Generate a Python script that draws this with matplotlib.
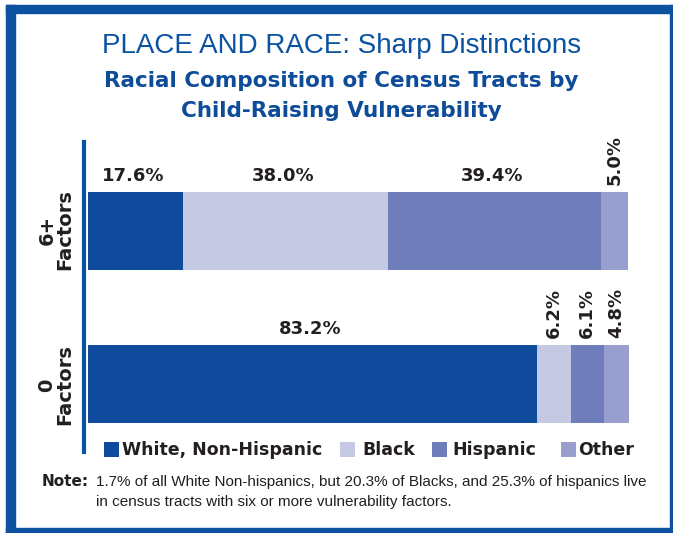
import matplotlib
matplotlib.use("Agg")
import matplotlib.pyplot as plt
from matplotlib.patches import Rectangle
import numpy as np

# ---- data ----
groups = ["6+\nFactors", "0\nFactors"]
races = ["White, Non-Hispanic", "Black", "Hispanic", "Other"]
six_plus = [17.6, 38.0, 39.4, 5.0]
zero = [83.2, 6.2, 6.1, 4.8]
colors = ["#0F4A9C", "#C5C9E3", "#6F7DBA", "#989FCF"]

title = "PLACE AND RACE: Sharp Distinctions"
subtitle = "Racial Composition of Census Tracts by\nChild-Raising Vulnerability"
note_head = "Note:"
note_line1 = "1.7% of all White Non-hispanics, but 20.3% of Blacks, and 25.3% of hispanics live"
note_line2 = "in census tracts with six or more vulnerability factors."

W, H = 673, 533
BLUE = "#0B53A0"
DARK = "#231F20"
plt.rcParams['font.family'] = ['DejaVu Sans']
NARROW = ["Liberation Sans", "DejaVu Sans"]

fig = plt.figure(figsize=(W / 100, H / 100), dpi=100)

def fx(x):
    return x / W

def fy(y):
    return 1 - y / H

# frame
for (x0, y0, x1, y1) in [(6, 5, 15, 533), (6, 5, 673, 13), (670, 5, 673, 533), (6, 528, 673, 533)]:
    fig.patches.append(Rectangle((fx(x0), fy(y1)), fx(x1) - fx(x0), (y1 - y0) / H,
                                 transform=fig.transFigure, color=BLUE, zorder=5))

# axes: x from 88 to 629 px, y from 142 to 452 px
ax = fig.add_axes([fx(88), fy(452), fx(629) - fx(88), (452 - 142) / H])
unit = 153.0
ypos = [1, 0]  # 6+ on top
bar_h = 78 / unit
ax.set_ylim(-(452 - 384) / unit, 1 + (231 - 142) / unit)
ax.set_xlim(0, 100.2)

vals = [six_plus, zero]
for gi, (yp, v) in enumerate(zip(ypos, vals)):
    left = 0
    for ri, val in enumerate(v):
        ax.barh(yp, val, left=left, height=bar_h, color=colors[ri], linewidth=0)
        cx = left + val / 2
        top = yp + bar_h / 2
        if val >= 10:
            ax.annotate(f"{val:.1f}%", (cx, top), xytext=(-2, 5), textcoords="offset points",
                        ha="center", va="bottom", fontsize=13, fontweight="bold", color=DARK)
        else:
            ax.annotate(f"{val:.1f}%", (cx, top), xytext=(0, 5), textcoords="offset points",
                        ha="center", va="bottom", rotation=90, fontsize=13, fontweight="bold",
                        color=DARK)
        left += val

ax.set_yticks([])
ax.set_xticks([])
for s in ["top", "right", "bottom"]:
    ax.spines[s].set_visible(False)
ax.spines["left"].set_color(BLUE)
ax.spines["left"].set_linewidth(3)
ax.spines["left"].set_position(("outward", 3))

# group labels (rotated)
for lab, yc in zip(groups, [230, 385]):
    fig.text(fx(56), fy(yc), lab, rotation=90, ha="center", va="center", fontsize=14,
             fontweight="bold", color=DARK, linespacing=0.95, multialignment="center")

# titles
fig.text(fx(342), fy(46), title, ha="center", va="center", fontsize=20, color=BLUE,
         family=NARROW)
fig.text(fx(341), fy(96), subtitle, ha="center", va="center", fontsize=15.5, color="#0E4C9A",
         fontweight="bold", linespacing=1.6)

# legend
leg_items = [(104, 122), (340, 362), (432, 452), (561, 578)]
for (sx, tx), lab, c in zip(leg_items, races, colors):
    fig.patches.append(Rectangle((fx(sx), fy(457)), 15 / W, 15 / H, transform=fig.transFigure,
                                 color=c, linewidth=0))
    fig.text(fx(tx), fy(450), lab, ha="left", va="center", fontsize=12.5, fontweight="bold",
             color=DARK)

# note
fig.text(fx(42), fy(482), note_head, ha="left", va="center", fontsize=11, fontweight="bold",
         color=DARK)
fig.text(fx(96), fy(482), note_line1, ha="left", va="center", fontsize=11, color=DARK,
         family=NARROW)
fig.text(fx(96), fy(502), note_line2, ha="left", va="center", fontsize=11, color=DARK,
         family=NARROW)

fig.savefig("out.png", dpi=100)
